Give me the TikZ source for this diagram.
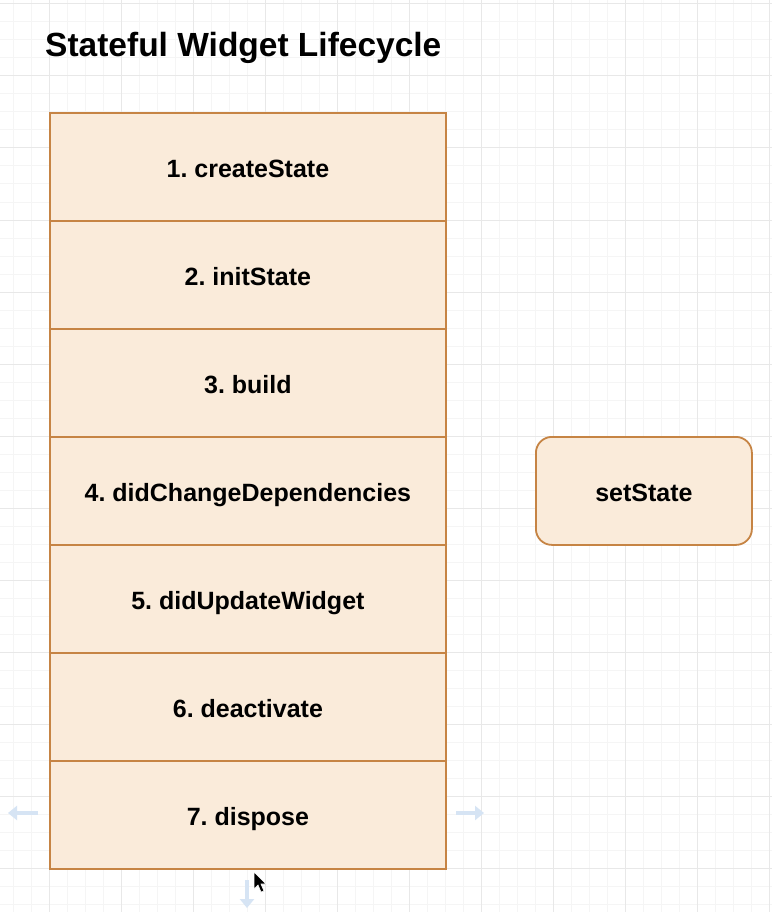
\documentclass[tikz,border=0pt]{standalone}
\usepackage{fontspec}
\setmainfont{Liberation Sans}
\usetikzlibrary{arrows.meta}
\frenchspacing
\definecolor{boxfill}{RGB}{250,235,218}
\definecolor{boxline}{RGB}{198,132,68}
\definecolor{gridminor}{RGB}{245,245,245}
\definecolor{gridmajor}{RGB}{232,232,232}
\definecolor{hoverblue}{RGB}{214,228,244}
\tikzset{
  minorline/.style={draw=gridminor, line width=1pt},
  majorline/.style={draw=gridmajor, line width=1pt},
  stagebox/.style={draw=boxline, fill=boxfill, line width=1.8pt, minimum width=396pt, minimum height=108pt, anchor=north west, font=\fontsize{25}{28}\selectfont\bfseries, inner sep=0pt, text height=22pt, text depth=0pt},
  callbox/.style={draw=boxline, fill=boxfill, line width=1.8pt, rounded corners=16pt, minimum width=216pt, minimum height=108pt, anchor=north west, font=\fontsize{25}{28}\selectfont\bfseries, inner sep=0pt, text height=22pt, text depth=0pt},
  hover/.style={draw=hoverblue, line width=4.5pt, -{Triangle[length=9pt,width=14pt]}},
}
\begin{document}
\begin{tikzpicture}[x=1pt,y=-1pt]
\useasboundingbox (0,0) rectangle (772,912);
\fill[white] (0,0) rectangle (772,912);
% grid
\foreach \x in {13,31,...,769} \draw[minorline] (\x,0) -- (\x,912);
\foreach \y in {4,22,...,910} \draw[minorline] (0,\y) -- (772,\y);
\foreach \x in {49,121,...,769} \draw[majorline] (\x,0) -- (\x,912);
\foreach \y in {4,76,...,910} \draw[majorline] (0,\y) -- (772,\y);
% title
\node[anchor=base west, inner sep=0pt, font=\fontsize{33.5}{36}\selectfont\bfseries] (title) at (45,57) {Stateful Widget Lifecycle};
% stages
\node[stagebox] (b1) at (49,112) {1. createState};
\node[stagebox] (b2) at (49,220) {2. initState};
\node[stagebox] (b3) at (49,328) {3. build};
\node[stagebox] (b4) at (49,436) {4. didChangeDependencies};
\node[stagebox] (b5) at (49,544) {5. didUpdateWidget};
\node[stagebox] (b6) at (49,652) {6. deactivate};
\node[stagebox] (b7) at (49,760) {7. dispose};
% setState
\node[callbox] (s) at (535,436) {setState};
% faint hover arrows
\coordinate (hl0) at (38,813);
\coordinate (hl1) at (8,813);
\coordinate (hr0) at (456,813);
\coordinate (hr1) at (484,813);
\coordinate (hd0) at (247,880);
\coordinate (hd1) at (247,908);
\draw[hover] (hl0) -- (hl1);
\draw[hover] (hr0) -- (hr1);
\draw[hover] (hd0) -- (hd1);
% mouse cursor
\fill[black, draw=white, line width=0.6pt] (254,872) -- (254,889) -- (258,885) -- (261,892) -- (264,891) -- (261,884) -- (266,884) -- cycle;
\end{tikzpicture}
\end{document}
